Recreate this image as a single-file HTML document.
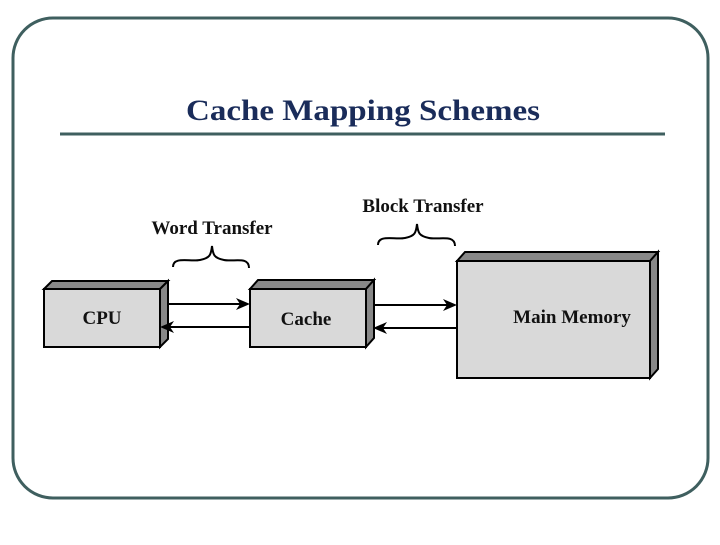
<!DOCTYPE html>
<html><head><style>
body{margin:0;width:720px;height:540px;background:#fff;overflow:hidden}
</style></head><body>
<svg width="720" height="540" xmlns="http://www.w3.org/2000/svg">
<rect x="13" y="18" width="695" height="480" rx="40" ry="40" fill="#fff" stroke="#3f5f5f" stroke-width="3"/>
<text x="186" y="120" textLength="354" lengthAdjust="spacingAndGlyphs" font-family="Liberation Serif, serif" font-weight="bold" font-size="30" fill="#1a2c5a">Cache Mapping Schemes</text>
<line x1="60" y1="134" x2="665" y2="134" stroke="#3f5f5f" stroke-width="3"/>
<g stroke="#000" stroke-width="2">
<polygon points="44,289 52,281 168,281 160,289" fill="#888"/>
<polygon points="160,289 168,281 168,339 160,347" fill="#888"/>
<rect x="44" y="289" width="116" height="58" fill="#d9d9d9"/>
<polygon points="250,289 258,280 374,280 366,289" fill="#888"/>
<polygon points="366,289 374,280 374,338 366,347" fill="#888"/>
<rect x="250" y="289" width="116" height="58" fill="#d9d9d9"/>
<polygon points="457,261 465,252 658,252 650,261" fill="#888"/>
<polygon points="650,261 658,252 658,369 650,378" fill="#888"/>
<rect x="457" y="261" width="193" height="117" fill="#d9d9d9"/>
<line x1="167" y1="304" x2="240" y2="304"/>
<line x1="250" y1="327" x2="170" y2="327"/>
<line x1="374" y1="305" x2="447" y2="305"/>
<line x1="457" y1="328" x2="383" y2="328"/>
</g>
<g fill="#000">
<polygon points="250,304 236,298 240,304 236,310"/>
<polygon points="160,327 174,321 170,327 174,333"/>
<polygon points="457,305 443,299 447,305 443,311"/>
<polygon points="373,328 387,322 383,328 387,334"/>
</g>
<g fill="none" stroke="#000" stroke-width="2">
<path d="M173,267 C173,256 190,262 200,260 C210,258 211,255 212,246 C213,255 214,258 224,260 C234,262 249,256 249,268"/>
<path d="M378,245 C378,234 395,240 405,238 C415,236 416,233 417,224 C418,233 419,236 429,238 C439,240 455,234 455,246"/>
</g>
<g font-family="Liberation Serif, serif" font-weight="bold" font-size="19" fill="#111">
<text x="212" y="234" text-anchor="middle">Word Transfer</text>
<text x="423" y="212" text-anchor="middle">Block Transfer</text>
<text x="102" y="324" text-anchor="middle">CPU</text>
<text x="306" y="325" text-anchor="middle">Cache</text>
<text x="572" y="323" text-anchor="middle">Main Memory</text>
</g>
</svg>
</body></html>
